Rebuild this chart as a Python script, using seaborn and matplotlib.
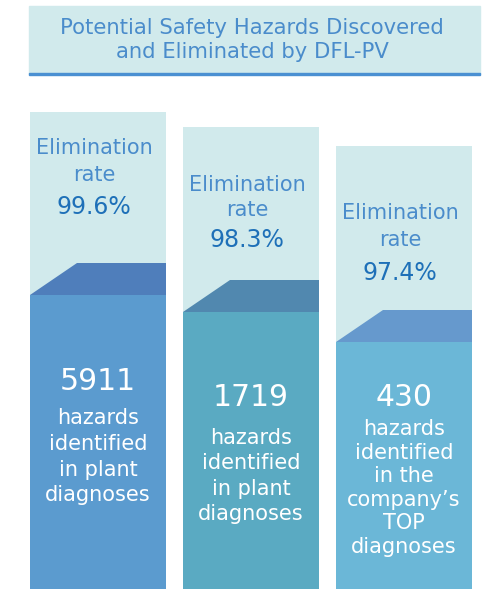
import matplotlib
matplotlib.use("Agg")
import matplotlib.pyplot as plt
import matplotlib.patches as mpatches
import seaborn as sns

# values
categories = ["plant A", "plant B", "TOP"]
hazards = [5911, 1719, 430]
rates = ["99.6%", "98.3%", "97.4%"]
descriptions = [
    "hazards\nidentified\nin plant\ndiagnoses",
    "hazards\nidentified\nin plant\ndiagnoses",
    "hazards\nidentified\nin the\ncompany\u2019s\nTOP\ndiagnoses",
]
bar_level = [294, 277, 247]      # height of the dark bars (px)
panel_level = [477, 462, 443]    # height of the light panels (px)

bar_colors = ["#5B9BCF", "#5AAAC2", "#6BB7D7"]
cap_colors = ["#4F7EBB", "#5188AF", "#6699CD"]
panel_color = "#D1EAEC"

W, H = 494, 589
sns.set_style("white")
plt.rcParams["font.family"] = ["DejaVu Sans"]

fig = plt.figure(figsize=(W / 100, H / 100), dpi=100)
ax = fig.add_axes([0, 0, 1, 1])

step = 153.0
x0 = 98.0
bw = 136 / step

# light panels behind each bar
sns.barplot(x=categories, y=panel_level, color=panel_color, width=bw,
            saturation=1, linewidth=0, ax=ax)
# main bars
sns.barplot(x=categories, y=bar_level, hue=categories, palette=bar_colors,
            width=bw, saturation=1, linewidth=0, legend=False, ax=ax)

ax.set_xlim(-x0 / step, (W - x0) / step)
ax.set_ylim(0, H)
ax.axis("off")

# sloped caps on top of the bars
for i, lvl in enumerate(bar_level):
    left, right = i - bw / 2, i + bw / 2
    ax.fill([left, left + 47 / step, right, right],
            [lvl, lvl + 32, lvl + 32, lvl],
            color=cap_colors[i], lw=0, zorder=3)

# title box
fig.patches.append(mpatches.Rectangle((29 / W, 1 - 74 / H), 451 / W, 68 / H,
                                      transform=fig.transFigure,
                                      color=panel_color, zorder=0))
fig.patches.append(mpatches.Rectangle((29 / W, 1 - 75 / H), 451 / W, 2.5 / H,
                                      transform=fig.transFigure,
                                      color="#4A90D2", zorder=1))
fig.text(252 / W, 1 - 40 / H,
         "Potential Safety Hazards Discovered\nand Eliminated by DFL-PV",
         ha="center", va="center", fontsize=15.2, color="#4A8CCB",
         linespacing=1.3)

# elimination rate labels
rate_y = [(148, 175, 207), (185, 210, 240), (213, 240, 273)]
for i, (y1, y2, y3) in enumerate(rate_y):
    xc = i - 4 / step
    ax.text(xc, H - y1, "Elimination", ha="center", va="center",
            fontsize=15, color="#4A8CCB", zorder=4)
    ax.text(xc, H - y2, "rate", ha="center", va="center",
            fontsize=15, color="#4A8CCB", zorder=4)
    ax.text(xc, H - y3, rates[i], ha="center", va="center",
            fontsize=17, color="#1E70B8", zorder=4)

# hazard counts and descriptions
num_y = [382, 397, 397]
desc_top = [408, 428, 419]
desc_ls = [1.36, 1.33, 1.22]
for i, n in enumerate(hazards):
    ax.text(i, H - num_y[i], str(n), ha="center", va="center",
            fontsize=21.5, color="white", zorder=4)
    ax.text(i, H - desc_top[i], descriptions[i], ha="center", va="top",
            fontsize=15, color="white", linespacing=desc_ls[i], zorder=4)

fig.savefig("out.png", dpi=100)
